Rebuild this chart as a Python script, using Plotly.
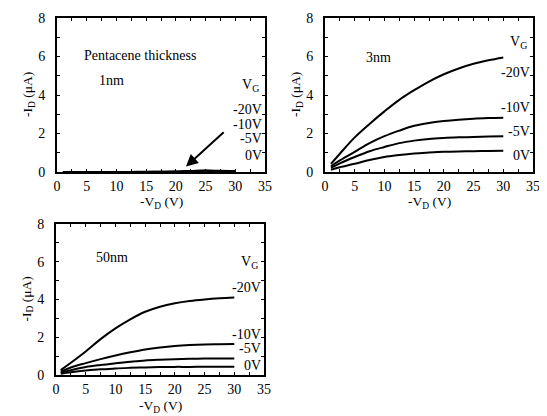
import plotly.graph_objects as go

# ---------------- data ----------------
vd = [1, 2.5, 5, 7.5, 10, 12.5, 15, 17.5, 20, 22.5, 25, 27.5, 30]
vd50 = [0.8, 2.5, 5, 7.5, 10, 12.5, 15, 17.5, 20, 22.5, 25, 27.5, 30]

id_1nm_m20 = [0, 0, 0, 0, 0, 0.005, 0.01, 0.01, 0.02, 0.05, 0.08, 0.06, 0.05]
id_1nm_m10 = [0, 0, 0, 0, 0, 0, 0.005, 0.01, 0.015, 0.04, 0.06, 0.05, 0.04]
id_1nm_m5 = [0, 0, 0, 0, 0, 0, 0, 0.005, 0.01, 0.03, 0.04, 0.03, 0.03]
id_1nm_0 = [0, 0, 0, 0, 0, 0, 0, 0, 0.005, 0.02, 0.03, 0.02, 0.02]

id_3nm_m20 = [0.42, 0.95, 1.8, 2.5, 3.15, 3.75, 4.25, 4.7, 5.08, 5.38, 5.62, 5.8, 5.95]
id_3nm_m10 = [0.3, 0.6, 1.05, 1.5, 1.86, 2.15, 2.4, 2.55, 2.65, 2.72, 2.77, 2.8, 2.82]
id_3nm_m5 = [0.22, 0.45, 0.78, 1.08, 1.3, 1.5, 1.63, 1.72, 1.77, 1.8, 1.82, 1.84, 1.86]
id_3nm_0 = [0.12, 0.25, 0.43, 0.62, 0.78, 0.88, 0.96, 1.01, 1.05, 1.07, 1.08, 1.09, 1.1]

id_50nm_m20 = [0.26, 0.65, 1.25, 1.9, 2.47, 2.95, 3.35, 3.62, 3.8, 3.92, 4.0, 4.06, 4.1]
id_50nm_m10 = [0.18, 0.4, 0.63, 0.84, 1.03, 1.2, 1.35, 1.46, 1.54, 1.59, 1.62, 1.63, 1.64]
id_50nm_m5 = [0.12, 0.25, 0.42, 0.53, 0.62, 0.7, 0.77, 0.81, 0.84, 0.86, 0.87, 0.88, 0.88]
id_50nm_0 = [0.07, 0.15, 0.24, 0.3, 0.35, 0.38, 0.4, 0.42, 0.43, 0.43, 0.44, 0.44, 0.44]

vg_labels = ["-20V", "-10V", "-5V", "0V"]
thickness_labels = ["1nm", "3nm", "50nm"]
x_ticks = [0, 5, 10, 15, 20, 25, 30, 35]
y_ticks = [0, 2, 4, 6, 8]

# label y positions (data units) per panel
label_y_1nm = [3.27, 2.49, 1.75, 0.88]
label_y_3nm = [5.15, 3.37, 2.13, 0.88]
label_y_50nm = [4.66, 2.17, 1.43, 0.48]
vg_title_y = [4.5, 6.75, 5.98]

FONT = "Liberation Serif"
FS_TICK = 14
FS_TEXT = 14
FS_TITLE = 13.5

# page body adds an 8px margin: build figure for the visible area
OFF = 8
W, H = 547 - OFF, 416 - OFF


def px_x(p):
    return (p - OFF) / W


def px_y(p):
    return 1 - (p - OFF) / H


fig = go.Figure()

panels = [
    ("x", "y", vd, [id_1nm_m20, id_1nm_m10, id_1nm_m5, id_1nm_0], label_y_1nm),
    ("x2", "y2", vd, [id_3nm_m20, id_3nm_m10, id_3nm_m5, id_3nm_0], label_y_3nm),
    ("x3", "y3", vd50, [id_50nm_m20, id_50nm_m10, id_50nm_m5, id_50nm_0], label_y_50nm),
]

for xa, ya, xs, curves, _ in panels:
    for c in curves:
        fig.add_trace(go.Scatter(x=xs, y=c, mode="lines", xaxis=xa, yaxis=ya,
                                 line=dict(color="black", width=2, shape="spline", smoothing=1.0),
                                 showlegend=False, hoverinfo="skip"))

# window-pixel boxes (left, right, top, bottom)
boxes = [(57, 265, 18, 172), (325, 533, 18, 172), (56, 264, 224, 375)]
domains = [([px_x(l), px_x(r)], [px_y(b), px_y(t)]) for l, r, t, b in boxes]

axis_common = dict(showline=True, linecolor="black", linewidth=2, mirror="ticks",
                   ticks="inside", ticklen=3, tickcolor="black", tickwidth=1,
                   showgrid=False, zeroline=False, automargin=False,
                   tickfont=dict(family=FONT, size=FS_TICK, color="black"))

layout = dict(width=W, height=H, margin=dict(l=0, r=0, t=0, b=0, autoexpand=False),
              plot_bgcolor="white", paper_bgcolor="white", showlegend=False,
              font=dict(family=FONT, size=FS_TICK, color="black"))
names = [("xaxis", "yaxis", "y", "x"), ("xaxis2", "yaxis2", "y2", "x2"), ("xaxis3", "yaxis3", "y3", "x3")]
for (xn, yn, anchor_y, anchor_x), (xd, yd) in zip(names, domains):
    layout[xn] = dict(axis_common, domain=xd, anchor=anchor_y, range=[0, 35],
                      tickvals=x_ticks, ticklabelstandoff=0,
                      minor=dict(dtick=2.5, ticks="inside", ticklen=3, tickcolor="black"))
    layout[yn] = dict(axis_common, domain=yd, anchor=anchor_x, range=[0, 8],
                      tickvals=y_ticks, ticklabelstandoff=7,
                      minor=dict(dtick=1, ticks="inside", ticklen=3, tickcolor="black"))
fig.update_layout(**layout)

annotations = []
tf = dict(family=FONT, size=FS_TEXT, color="black")
ttf = dict(family=FONT, size=FS_TITLE, color="black")
xtitle_y = [202, 202, 406]
for i, ((xa, ya, xs, curves, ly), (l, r, t, b)) in enumerate(zip(panels, boxes)):
    # VG labels
    for lab, yv in zip(vg_labels, ly):
        annotations.append(dict(x=34.9, y=yv, xref=xa, yref=ya, text=lab, showarrow=False,
                                xanchor="right", yanchor="middle", font=tf))
    annotations.append(dict(x=34.4, y=vg_title_y[i], xref=xa, yref=ya, text="V<sub>G</sub>",
                            showarrow=False, xanchor="right", yanchor="middle", font=tf))
    # axis titles
    annotations.append(dict(x=px_x((l + r) / 2), y=px_y(xtitle_y[i]), xref="paper", yref="paper",
                            text="-V<sub>D</sub> (V)", showarrow=False, xanchor="center",
                            yanchor="middle", font=ttf))
    annotations.append(dict(x=px_x(l - 29), y=px_y((t + b) / 2), xref="paper", yref="paper",
                            text="-I<sub>D</sub> (μA)", showarrow=False, textangle=-90,
                            xanchor="center", yanchor="middle", font=ttf))

# thickness labels
annotations.append(dict(x=4.2, y=6.03, xref="x", yref="y", text="Pentacene thickness",
                        showarrow=False, xanchor="left", font=tf))
annotations.append(dict(x=6.7, y=4.73, xref="x", yref="y", text=thickness_labels[0],
                        showarrow=False, xanchor="left", font=tf))
annotations.append(dict(x=6.5, y=5.97, xref="x2", yref="y2", text=thickness_labels[1],
                        showarrow=False, xanchor="left", font=tf))
annotations.append(dict(x=6.4, y=6.24, xref="x3", yref="y3", text=thickness_labels[2],
                        showarrow=False, xanchor="left", font=tf))
# arrow
annotations.append(dict(x=21.7, y=0.28, ax=28.3, ay=2.13, xref="x", yref="y", axref="x", ayref="y",
                        text="", showarrow=True, arrowhead=2, arrowsize=1.2, arrowwidth=2,
                        arrowcolor="black"))
fig.update_layout(annotations=annotations)

fig.write_html("out.html")
